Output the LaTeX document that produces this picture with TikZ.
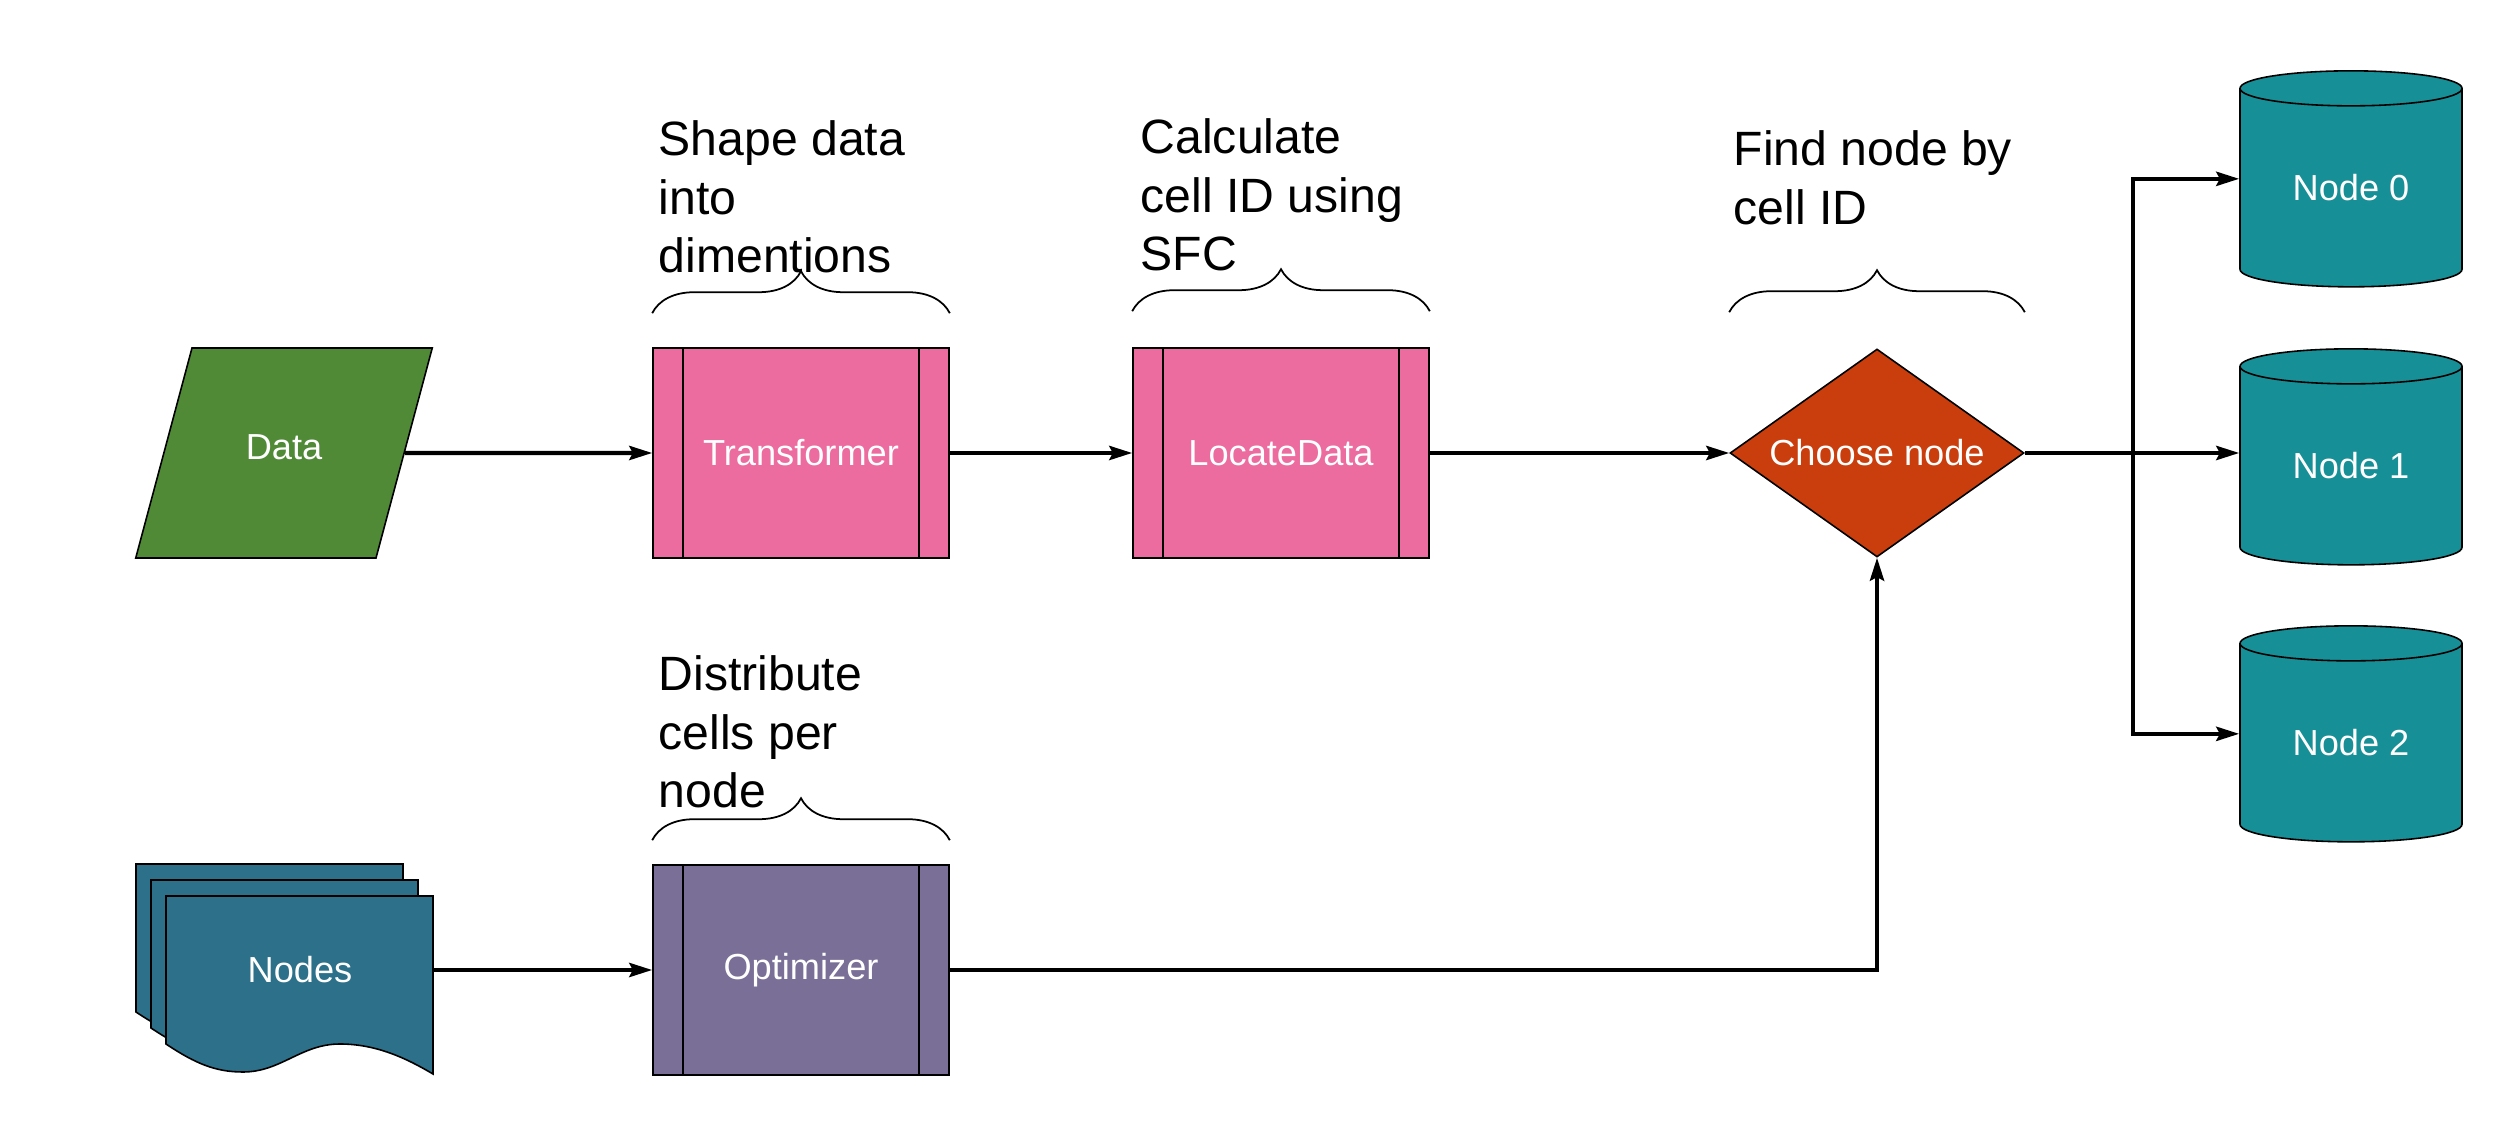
\documentclass[tikz,border=0pt]{standalone}
\usepackage{fontspec}
\setmainfont{Liberation Sans}
\usetikzlibrary{shapes.geometric,arrows.meta,decorations.pathreplacing}
\definecolor{datagreen}{RGB}{80,138,54}
\definecolor{procpink}{RGB}{236,108,159}
\definecolor{optpurple}{RGB}{122,111,151}
\definecolor{chooseorange}{RGB}{202,62,13}
\definecolor{storeteal}{RGB}{23,143,150}
\definecolor{docblue}{RGB}{45,112,138}

\begin{document}
\begin{tikzpicture}[
  block/.style={draw=black, line width=0.45pt, text=white, font=\fontsize{10.3}{12}\selectfont, inner sep=0pt},
  process/.style={block, rectangle, minimum width=2.96cm, minimum height=2.1cm,
    path picture={\draw[line width=0.45pt] ([xshift=0.3cm]path picture bounding box.north west) -- ([xshift=0.3cm]path picture bounding box.south west);
      \draw[line width=0.45pt] ([xshift=-0.3cm]path picture bounding box.north east) -- ([xshift=-0.3cm]path picture bounding box.south east);}},
  store/.style={block, cylinder, shape border rotate=90, aspect=0.3, fill=storeteal, minimum width=2.22cm, minimum height=2.16cm},
  sheet/.style={draw=black, line width=0.45pt, fill=docblue},
  note/.style={anchor=north west, inner sep=0pt, align=left, font=\fontsize{13.7}{16.7}\selectfont},
  curly/.style={decorate, decoration={brace, amplitude=0.42cm}, line width=0.5pt},
  arrow/.style={-{Stealth[length=6.5pt, width=4pt, inset=1pt]}, line width=1.2pt}
]
\useasboundingbox (0,0) rectangle (25,11.46);

% Top row
\node[block, trapezium, trapezium left angle=75, trapezium right angle=105,
  fill=datagreen, text width=1.84cm, align=center, text height=1.12cm, text depth=0.98cm] (data) at (2.84,6.93) {Data};
\node[process, fill=procpink] (transformer) at (8.01,6.93) {Transformer};
\node[process, fill=procpink] (locate) at (12.81,6.93) {LocateData};
\node[block, diamond, aspect=1.4, fill=chooseorange, minimum width=2.94cm, minimum height=2.08cm] (choose) at (18.77,6.93) {Choose node};

% Storage
\node[store] (n0) at (23.51,9.58) {Node 0};
\node[store] (n1) at (23.51,6.80) {Node 1};
\node[store] (n2) at (23.51,4.03) {Node 2};

% Bottom row
\foreach \sx/\sy in {1.36/2.82, 1.51/2.66, 1.66/2.50}
  \draw[sheet, shift={(\sx,\sy)}] (0,0) -- (2.67,0) -- (2.67,-1.78)
    .. controls (2.4,-1.62) and (2.1,-1.48) .. (1.74,-1.48)
    .. controls (1.35,-1.48) and (1.15,-1.76) .. (0.77,-1.76)
    .. controls (0.5,-1.76) and (0.3,-1.68) .. (0,-1.48) -- cycle;
\node[block, draw=none, minimum width=2.67cm, minimum height=1.48cm] (nodes) at (3.0,1.76) {Nodes};
\node[process, fill=optpurple] (optimizer) at (8.01,1.76) {Optimizer};

% Notes
\node[note] (shapenote) at (6.58,10.26) {Shape data\\into\\dimentions};
\node[note] (calcnote) at (11.40,10.28) {Calculate\\cell ID using\\SFC};
\node[note] (findnote) at (17.33,10.16) {Find node by\\cell ID};
\node[note] (distnote) at (6.58,4.91) {Distribute\\cells per\\node};

% Braces
\draw[curly] ([yshift=0.34cm]transformer.north west) -- ([yshift=0.34cm]transformer.north east);
\draw[curly] ([yshift=0.36cm]locate.north west) -- ([yshift=0.36cm]locate.north east);
\draw[curly] ([yshift=0.36cm]choose.west |- choose.north) -- ([yshift=0.36cm]choose.east |- choose.north);
\draw[curly] ([yshift=0.24cm]optimizer.north west) -- ([yshift=0.24cm]optimizer.north east);

% Arrows
\coordinate (split) at (21.33,6.93);
\draw[arrow] (data.east) -- (transformer.west);
\draw[arrow] (transformer.east) -- (locate.west);
\draw[arrow] (locate.east) -- (choose.west);
\draw[arrow] (choose.east) -- (choose.east -| n1.west);
\draw[arrow] (split) |- (n0.west |- n0.shape center);
\draw[arrow] (split) |- (n2.west |- n2.shape center);
\draw[arrow] (nodes.east) -- (optimizer.west);
\draw[arrow] (optimizer.east) -| (choose.south);

\end{tikzpicture}
\end{document}
